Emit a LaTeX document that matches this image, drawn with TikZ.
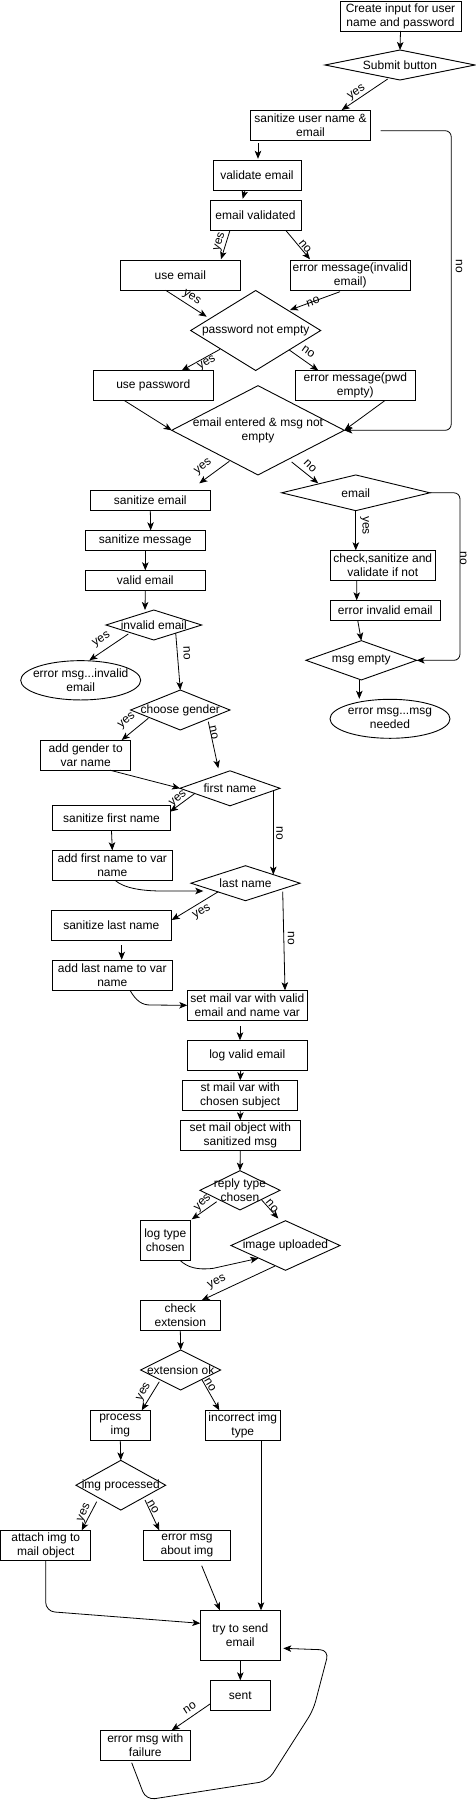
\documentclass[tikz,border=0pt]{standalone}
\usepackage{fontspec}
\setmainfont{Liberation Sans}
\usetikzlibrary{shapes.geometric,arrows.meta,calc}
\begin{document}
\begin{tikzpicture}[x=1pt,y=-1pt,
  base/.style={font=\fontsize{12}{14}\selectfont, align=center},
  box/.style={base, draw, rectangle, inner sep=0pt, outer sep=0pt, line width=0.9pt},
  dia/.style={draw, diamond, inner sep=0pt, outer sep=0pt, line width=0.9pt},
  ell/.style={draw, ellipse, inner sep=0pt, outer sep=0pt, line width=0.9pt},
  lab/.style={font=\fontsize{12}{14}\selectfont, inner sep=0pt},
  arr/.style={line width=0.8pt, -{Stealth[length=8pt,width=6.5pt,inset=2pt]}},
  con/.style={line width=0.8pt}]
\fill[white] (0,0) rectangle (476,1809);
\useasboundingbox (0,0) rectangle (476,1809);

% boxes
\node[box, minimum width=121, minimum height=30] (create) at (400.5,16) {Create input for user\\name and password};
\node[box, minimum width=120, minimum height=30] (sanuser) at (310.5,125.5) {sanitize user name \&\\email};
\node[box, minimum width=88, minimum height=30] (validate) at (257,175.3) {validate email};
\node[box, minimum width=91, minimum height=30] (emailval) at (255.5,215.3) {email validated};
\node[box, minimum width=120, minimum height=30] (useemail) at (180.3,275.3) {use email};
\node[box, minimum width=120, minimum height=30] (errinv) at (350.3,275.3) {error message(invalid\\email)};
\node[box, minimum width=120, minimum height=30] (usepwd) at (153.3,385.5) {use password};
\node[box, minimum width=120, minimum height=30] (errpwd) at (355.3,385.5) {error message(pwd\\empty)};
\node[box, minimum width=120, minimum height=20] (sanemail) at (150.3,500.3) {sanitize email};
\node[box, minimum width=120, minimum height=20] (sanmsg) at (145.3,540.3) {sanitize message};
\node[box, minimum width=120, minimum height=20] (validemail) at (145.3,580.3) {valid email};
\node[box, minimum width=105, minimum height=30] (checksan) at (382.8,565.3) {check,sanitize and\\validate if not};
\node[box, minimum width=110, minimum height=20] (errinvemail) at (385.3,610.3) {error invalid email};
\node[box, minimum width=90, minimum height=30] (addgender) at (85.7,755.2) {add gender to\\var name};
\node[box, minimum width=118.4, minimum height=25] (sanfirst) at (111.5,818.2) {sanitize first name};
\node[box, minimum width=120, minimum height=30] (addfirst) at (112.3,865.3) {add first name to var\\name};
\node[box, minimum width=120, minimum height=30] (sanlast) at (111.3,925.3) {sanitize last name};
\node[box, minimum width=120, minimum height=30] (addlast) at (112.3,975.3) {add last name to var\\name};
\node[box, minimum width=120, minimum height=30] (setmail) at (247.3,1005.3) {set mail var with valid\\email and name var};
\node[box, minimum width=120, minimum height=30] (logvalid) at (247.3,1055.3) {log valid email};
\node[box, minimum width=115, minimum height=30] (stmail) at (240.2,1095.3) {st mail var with\\chosen subject};
\node[box, minimum width=120, minimum height=30] (setobj) at (240.3,1135.3) {set mail object with\\sanitized msg};
\node[box, minimum width=50, minimum height=40] (logtype) at (165.3,1240.3) {log type\\chosen};
\node[box, minimum width=80, minimum height=30] (checkext) at (180.3,1315.3) {check\\extension};
\node[box, minimum width=60, minimum height=30] (process) at (120.3,1425.3) {process\\img};
\node[box, minimum width=75, minimum height=30] (incorrect) at (242.8,1425.3) {incorrect img\\type};
\node[box, minimum width=90, minimum height=30] (attach) at (45.7,1545.3) {attach img to\\mail object};
\node[box, minimum width=87.3, minimum height=30] (erroraboutimg) at (187,1545.3) {error msg\\about img};
\node[box, minimum width=80, minimum height=50] (trysend) at (240.3,1635.3) {try to send\\email};
\node[box, minimum width=60, minimum height=30] (sent) at (240.3,1695.3) {sent};
\node[box, minimum width=90, minimum height=30] (errfail) at (145.3,1745.3) {error msg with\\failure};

% diamonds
\node[dia, minimum width=150, minimum height=30, label={[base]center:Submit button}] (submit) at (400,65) {};
\node[dia, minimum width=130, minimum height=80, label={[base]center:password not empty}] (pwdne) at (255.7,330.5) {};
\node[dia, minimum width=172.6, minimum height=89.3, label={[base]center:email entered \& msg not\\empty}] (emsg) at (258,430.3) {};
\node[dia, minimum width=148.3, minimum height=35.7, label={[base]center:email}] (emaild) at (355.8,492.8) {};
\node[dia, minimum width=110.7, minimum height=39.3, label={[base]center:msg empty}] (msgempty) at (361.3,660.3) {};
\node[dia, minimum width=95.7, minimum height=30, label={[base]center:invalid email}] (invalid) at (153.8,625) {};
\node[dia, minimum width=99.3, minimum height=40, label={[base]center:choose gender}] (gender) at (180.3,710) {};
\node[dia, minimum width=100, minimum height=35, label={[base]center:first name}] (first) at (230,788.3) {};
\node[dia, minimum width=109, minimum height=35, label={[base]center:last name}] (last) at (245.5,883.2) {};
\node[dia, minimum width=80, minimum height=39.3, label={[base]center:reply type\\chosen}] (reply) at (240,1190.3) {};
\node[dia, minimum width=109, minimum height=49.6, label={[base]center:image uploaded}] (imgup) at (285.5,1245.5) {};
\node[dia, minimum width=80, minimum height=40, label={[base]center:extension ok}] (extok) at (180.7,1370) {};
\node[dia, minimum width=89.7, minimum height=49.7, label={[base]center:img processed}] (imgproc) at (120.8,1485.2) {};

% ellipses
\node[ell, minimum width=120, minimum height=39.3, label={[base]center:error msg...invalid\\email}] (errell) at (80.7,680.3) {};
\node[ell, minimum width=120, minimum height=39, label={[base]center:error msg...msg\\needed}] (msgneeded) at (390,718.8) {};

% connectors
\draw[arr] (create.south) -- (submit.north);
\draw[arr] ($(submit)+(-12.3,14)$) -- ($(sanuser)+(31.2,-15.5)$);
\draw[arr] ($(sanuser.south)+(-52.5,3)$) -- ($(validate.north)+(1,-1.5)$);
\draw[arr] ($(validate.south)+(-12,0)$) -- ($(emailval.north)+(-12.8,-1.5)$);
\draw[arr] ($(emailval)+(-25.5,15)$) -- ($(useemail)+(40.7,-16)$);
\draw[arr] ($(emailval)+(30.2,15)$) -- ($(errinv)+(-40.3,-16)$);
\draw[arr] ($(useemail)+(-14.6,15)$) -- ($(pwdne)+(-49,-13.8)$);
\draw[arr] ($(errinv)+(-10.3,16.4)$) -- ($(pwdne)+(34.3,-20.5)$);
\draw[arr] ($(pwdne)+(-35.7,18.8)$) -- ($(usepwd)+(28.4,-15)$);
\draw[arr] ($(pwdne)+(33.6,19.5)$) -- ($(errpwd)+(-37,-15)$);
\draw[arr] ($(usepwd)+(-29,15)$) -- (emsg.west);
\draw[arr] ($(errpwd)+(29.7,15)$) -- (emsg.east);
\draw[arr, rounded corners=6pt] ($(sanuser.east)+(10,5.2)$) -- ++(70.7,0) |- (emsg.east);
\draw[arr] ($(emsg)+(-28.7,31)$) -- ($(sanemail)+(49,-17)$);
\draw[arr] ($(emsg)+(33.7,31.7)$) -- ($(emaild)+(-37.5,-9.5)$);
\draw[arr] (sanemail.south) -- ($(sanmsg.north)+(5.4,0)$);
\draw[arr] (sanmsg.south) -- (validemail.north);
\draw[arr] (validemail.south) -- ($(invalid.north)+(-8.8,0)$);
\draw[arr] (emaild.south) -- ($(checksan.north)+(-27,0)$);
\draw[arr] ($(checksan.south)+(-26,0)$) -- ($(errinvemail.north)+(-28.6,0)$);
\draw[arr] ($(errinvemail.south)+(-27.6,0)$) -- (msgempty.north);
\draw[arr, rounded corners=6pt] (emaild.east) -- ++(30,0) |- (msgempty.east);
\draw[arr] ($(msgempty.south)+(-2,0)$) -- ($(msgneeded.north)+(-30.7,-0.5)$);
\draw[arr] ($(invalid)+(-25.5,9)$) -- ($(errell)+(8.6,-20)$);
\draw[arr] ($(invalid)+(21.9,8)$) -- (gender.north);
\draw[arr] ($(gender)+(-32,8.3)$) -- ($(addgender)+(36,-15.2)$);
\draw[arr] ($(gender)+(28,11.7)$) -- ($(first)+(-11.7,-20)$);
\draw[arr] ($(addgender)+(24.3,15)$) -- (first.west);
\draw[arr] ($(first)+(-35,5)$) -- ($(sanfirst)+(58.5,-6.5)$);
\draw[arr] ($(first)+(43.3,2.3)$) -- ($(last)+(27.8,-8.6)$);
\draw[arr] (sanfirst.south) -- (addfirst.north);
\draw[arr] ($(addfirst.south)+(2.7,0)$) .. controls ($(addfirst.south)+(12,8)$) and ($(addfirst.south)+(30,11)$) .. ($(addfirst.south)+(54.4,10.7)$) -- ($(last.west)+(12.3,7.8)$);
\draw[arr] ($(last)+(-27.2,8.5)$) -- ($(sanlast)+(60.4,-5.3)$);
\draw[arr] ($(last)+(37.2,8.5)$) -- ($(setmail)+(37.7,-15)$);
\draw[arr] ($(sanlast.south)+(10.4,4.7)$) -- ($(addlast.north)+(9.4,-0.5)$);
\draw[arr] ($(addlast.south)+(17.7,0)$) .. controls ($(addlast.south)+(24,11)$) and ($(addlast.south)+(30,14.7)$) .. ($(addlast.south)+(38,14.7)$) -- (setmail.west);
\draw[arr] ($(setmail.south)+(-7.3,5.7)$) -- ($(logvalid.north)+(-7.3,0)$);
\draw[arr] ($(logvalid.south)+(-6.6,0)$) -- (stmail.north);
\draw[arr] (stmail.south) -- (setobj.north);
\draw[arr] (setobj.south) -- (reply.north);
\draw[arr] ($(reply)+(-23.3,11.4)$) -- ($(logtype)+(26.4,-21)$);
\draw[arr] ($(reply)+(21.7,9.7)$) -- ($(imgup)+(-7.2,-27)$);
\draw[arr] ($(logtype.south)+(14.7,0)$) .. controls ($(logtype.south)+(22,7)$) and ($(logtype.south)+(32,10)$) .. ($(logtype.south)+(48,8)$) -- ($(imgup)+(-27.2,12.8)$);
\draw[arr] ($(imgup)+(-10.5,20.5)$) -- ($(checkext)+(21.4,-15)$);
\draw[arr] (checkext.south) -- (extok.north);
\draw[arr] ($(extok)+(-21.4,11.7)$) -- ($(process)+(21.4,-15)$);
\draw[arr] ($(extok)+(21,9.3)$) -- ($(incorrect)+(-23.5,-15)$);
\draw[arr] (process.south) -- (imgproc.north);
\draw[arr] ($(imgproc)+(-24.1,16.5)$) -- ($(attach)+(36,-15)$);
\draw[arr] ($(imgproc)+(24.2,14.8)$) -- ($(erroraboutimg)+(-27.7,-15)$);
\draw[arr] ($(incorrect)+(18.2,15)$) -- ($(trysend)+(20.7,-25)$);
\draw[arr, rounded corners=9pt] (attach.south) -- ++(0,51) -- ($(trysend.west)+(0,-12)$);
\draw[arr] ($(erroraboutimg)+(14.7,20.4)$) -- ($(trysend)+(-20.3,-25)$);
\draw[arr] (trysend.south) -- (sent.north);
\draw[arr] ($(sent)+(-30.3,8.7)$) -- ($(errfail)+(26.4,-15)$);
\draw[arr, rounded corners=9pt] ($(errfail.south)+(-13.6,2.4)$) -- ($(errfail.south)+(0.7,39.7)$) -- ($(errfail.south)+(122.7,20.7)$) -- ($(errfail.south)+(168,-50.3)$) -- ($(errfail.south)+(183.7,-110.3)$) -- ($(trysend.east)+(3,13)$);

% labels
\node[lab, rotate=34] (l1) at (356.7,93) {yes};
\node[lab, rotate=-90] (l2) at (459,266) {no};
\node[lab, rotate=73] (l3) at (220,241.7) {yes};
\node[lab, rotate=-50] (l4) at (305,246.7) {no};
\node[lab, rotate=-32] (l5) at (191.5,298) {yes};
\node[lab, rotate=20] (l6) at (313,302) {no};
\node[lab, rotate=30] (l7) at (207,363) {yes};
\node[lab, rotate=-35] (l8) at (308.3,352) {no};
\node[lab, rotate=37] (l9) at (203.3,467) {yes};
\node[lab, rotate=-45] (l10) at (310,466) {no};
\node[lab, rotate=-90] (l11) at (364.5,525.5) {yes};
\node[lab, rotate=-90] (l12) at (463.3,558) {no};
\node[lab, rotate=33] (l13) at (101.7,640) {yes};
\node[lab, rotate=-88] (l14) at (186.7,653.3) {no};
\node[lab, rotate=40] (l15) at (127,721) {yes};
\node[lab, rotate=-78] (l16) at (213.8,732.5) {no};
\node[lab, rotate=40] (l17) at (178.3,799) {yes};
\node[lab, rotate=-90] (l18) at (279.5,833) {no};
\node[lab, rotate=30] (l19) at (202,912.5) {yes};
\node[lab, rotate=-90] (l20) at (291,938) {no};
\node[lab, rotate=45] (l21) at (203,1203) {yes};
\node[lab, rotate=-50] (l22) at (272,1206) {no};
\node[lab, rotate=25] (l23) at (217,1282.5) {yes};
\node[lab, rotate=60] (l24) at (144,1392) {yes};
\node[lab, rotate=-60] (l25) at (210,1385) {no};
\node[lab, rotate=65] (l26) at (84.5,1513) {yes};
\node[lab, rotate=-60] (l27) at (153,1506.7) {no};
\node[lab, rotate=33] (l28) at (189.7,1708.3) {no};
\end{tikzpicture}
\end{document}
